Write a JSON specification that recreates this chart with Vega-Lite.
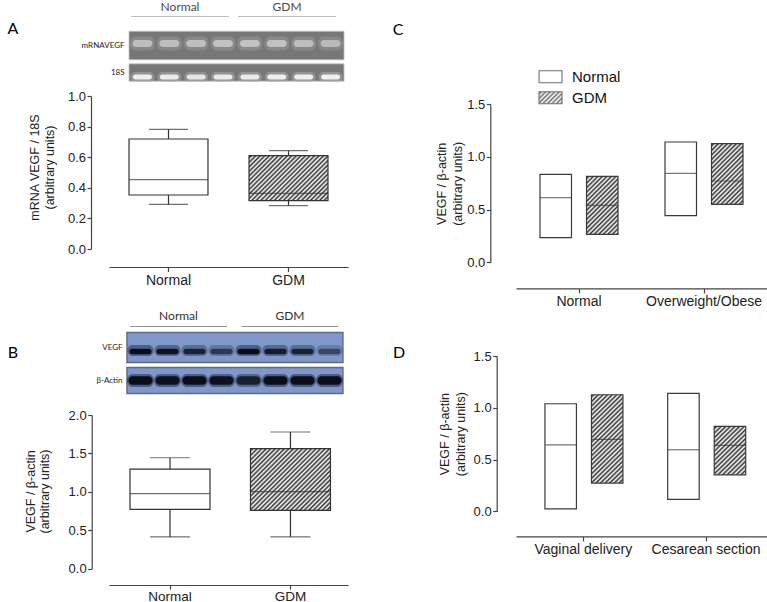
{
"$schema": "https://vega.github.io/schema/vega-lite/v6.json",
"padding": {"left": 6, "top": 0, "right": 0, "bottom": 0},
"background": "#ffffff",
"params": [{"name": "hatch", "value": [{"offset":0,"color":"#fff"},{"offset":0.015625,"color":"#333"},{"offset":0.03125,"color":"#fff"},{"offset":0.046875,"color":"#333"},{"offset":0.0625,"color":"#fff"},{"offset":0.078125,"color":"#333"},{"offset":0.09375,"color":"#fff"},{"offset":0.109375,"color":"#333"},{"offset":0.125,"color":"#fff"},{"offset":0.140625,"color":"#333"},{"offset":0.15625,"color":"#fff"},{"offset":0.171875,"color":"#333"},{"offset":0.1875,"color":"#fff"},{"offset":0.203125,"color":"#333"},{"offset":0.21875,"color":"#fff"},{"offset":0.234375,"color":"#333"},{"offset":0.25,"color":"#fff"},{"offset":0.265625,"color":"#333"},{"offset":0.28125,"color":"#fff"},{"offset":0.296875,"color":"#333"},{"offset":0.3125,"color":"#fff"},{"offset":0.328125,"color":"#333"},{"offset":0.34375,"color":"#fff"},{"offset":0.359375,"color":"#333"},{"offset":0.375,"color":"#fff"},{"offset":0.390625,"color":"#333"},{"offset":0.40625,"color":"#fff"},{"offset":0.421875,"color":"#333"},{"offset":0.4375,"color":"#fff"},{"offset":0.453125,"color":"#333"},{"offset":0.46875,"color":"#fff"},{"offset":0.484375,"color":"#333"},{"offset":0.5,"color":"#fff"},{"offset":0.515625,"color":"#333"},{"offset":0.53125,"color":"#fff"},{"offset":0.546875,"color":"#333"},{"offset":0.5625,"color":"#fff"},{"offset":0.578125,"color":"#333"},{"offset":0.59375,"color":"#fff"},{"offset":0.609375,"color":"#333"},{"offset":0.625,"color":"#fff"},{"offset":0.640625,"color":"#333"},{"offset":0.65625,"color":"#fff"},{"offset":0.671875,"color":"#333"},{"offset":0.6875,"color":"#fff"},{"offset":0.703125,"color":"#333"},{"offset":0.71875,"color":"#fff"},{"offset":0.734375,"color":"#333"},{"offset":0.75,"color":"#fff"},{"offset":0.765625,"color":"#333"},{"offset":0.78125,"color":"#fff"},{"offset":0.796875,"color":"#333"},{"offset":0.8125,"color":"#fff"},{"offset":0.828125,"color":"#333"},{"offset":0.84375,"color":"#fff"},{"offset":0.859375,"color":"#333"},{"offset":0.875,"color":"#fff"},{"offset":0.890625,"color":"#333"},{"offset":0.90625,"color":"#fff"},{"offset":0.921875,"color":"#333"},{"offset":0.9375,"color":"#fff"},{"offset":0.953125,"color":"#333"},{"offset":0.96875,"color":"#fff"},{"offset":0.984375,"color":"#333"},{"offset":1,"color":"#fff"}]}],
"config": {
  "view": {"stroke": null},
  "font": "Liberation Sans",
  "axis": {"grid": false, "labelOverlap": false, "domainColor": "#444444", "tickColor": "#444444", "domainWidth": 1.2, "tickWidth": 1.2, "labelColor": "#222222", "titleColor": "#222222", "labelFont": "Liberation Sans", "titleFont": "Liberation Sans", "titleFontWeight": "normal"}
},
"datasets": {
  "hdr": [{"group":"Normal","part":"label"},{"group":"GDM","part":"label"},{"group":"Normal","part":"line"},{"group":"GDM","part":"line"}],
  "stripsA": [{"gel":"A","row":"mRNAVEGF"},{"gel":"A","row":"18S"}],
  "stripsB": [{"gel":"B","row":"VEGF"},{"gel":"B","row":"β-Actin"}],
  "gelA": [
    {"row":"mRNAVEGF","lane":1,"i":0.85},{"row":"mRNAVEGF","lane":2,"i":0.85},{"row":"mRNAVEGF","lane":3,"i":0.85},{"row":"mRNAVEGF","lane":4,"i":0.9},
    {"row":"mRNAVEGF","lane":5,"i":0.9},{"row":"mRNAVEGF","lane":6,"i":0.9},{"row":"mRNAVEGF","lane":7,"i":0.85},{"row":"mRNAVEGF","lane":8,"i":0.8},
    {"row":"18S","lane":1,"i":1},{"row":"18S","lane":2,"i":0.95},{"row":"18S","lane":3,"i":0.9},{"row":"18S","lane":4,"i":0.95},
    {"row":"18S","lane":5,"i":0.95},{"row":"18S","lane":6,"i":1},{"row":"18S","lane":7,"i":1},{"row":"18S","lane":8,"i":1}
  ],
  "gelB": [
    {"row":"VEGF","lane":1,"i":1},{"row":"VEGF","lane":2,"i":0.95},{"row":"VEGF","lane":3,"i":0.8},{"row":"VEGF","lane":4,"i":0.6},
    {"row":"VEGF","lane":5,"i":1},{"row":"VEGF","lane":6,"i":0.85},{"row":"VEGF","lane":7,"i":0.8},{"row":"VEGF","lane":8,"i":0.5},
    {"row":"β-Actin","lane":1,"i":1},{"row":"β-Actin","lane":2,"i":0.95},{"row":"β-Actin","lane":3,"i":1},{"row":"β-Actin","lane":4,"i":0.95},
    {"row":"β-Actin","lane":5,"i":0.8},{"row":"β-Actin","lane":6,"i":1},{"row":"β-Actin","lane":7,"i":1},{"row":"β-Actin","lane":8,"i":1}
  ],
  "boxA": [{"group":"Normal","low":0.292,"q1":0.353,"median":0.453,"q3":0.719,"high":0.782},{"group":"GDM","low":0.283,"q1":0.316,"median":0.364,"q3":0.61,"high":0.643}],
  "boxB": [{"group":"Normal","low":0.413,"q1":0.773,"median":0.976,"q3":1.297,"high":1.444},{"group":"GDM","low":0.413,"q1":0.76,"median":1.002,"q3":1.562,"high":1.779}],
  "boxC": [
    {"bmi":"Normal","group":"Normal","low":0.234,"median":0.613,"high":0.833},
    {"bmi":"Normal","group":"GDM","low":0.265,"median":0.54,"high":0.814},
    {"bmi":"Overweight/Obese","group":"Normal","low":0.442,"median":0.843,"high":1.14},
    {"bmi":"Overweight/Obese","group":"GDM","low":0.549,"median":0.771,"high":1.124}
  ],
  "boxD": [
    {"delivery":"Vaginal delivery","group":"Normal","low":0.025,"median":0.643,"high":1.039},
    {"delivery":"Vaginal delivery","group":"GDM","low":0.273,"median":0.695,"high":1.126},
    {"delivery":"Cesarean section","group":"Normal","low":0.116,"median":0.595,"high":1.139},
    {"delivery":"Cesarean section","group":"GDM","low":0.353,"median":0.637,"high":0.82}
  ],
  "legend": [{"group":"Normal"},{"group":"GDM"}],
  "spacer": [{"k":"D"}],
  "empty": []
},
"hconcat": [
 {
  "vconcat": [
   {
    "width": 239, "height": 22,
    "data": {"name": "hdr"},
    "encoding": {
      "x": {"field":"group","type":"nominal","scale":{"type":"point","domain":["Normal","GDM"],"padding":0.617,"align":0.538},"axis":null},
      "y": {"field":"part","type":"nominal","scale":{"type":"point","domain":["label","line"],"padding":0.5},"axis":{"labels":false,"ticks":false,"domain":false,"tickSize":0,"title":"A","titleAngle":0,"titleX":-96.7,"titleY":33.3,"titleAlign":"center","titleBaseline":"alphabetic","titleFont":"Lato","titleFontSize":16,"titleColor":"#000000"}}
    },
    "layer": [
      {"transform":[{"filter":"datum.part === 'label'"}],"mark":{"type":"text","font":"Lato","fontSize":12,"color":"#4a4a4a","baseline":"middle","dy":1},"encoding":{"text":{"field":"group"}}},
      {"transform":[{"filter":"datum.part === 'line'"}],"mark":{"type":"tick","orient":"horizontal","size":98,"thickness":1,"color":"#a0a0a0"}}
    ]
   },
   {
    "width": 239, "height": 74,
    "resolve": {"scale": {"x": "independent", "opacity": "independent"}},
    "layer": [
      {"data":{"name":"stripsA"},"transform":[{"filter":"datum.row === 'mRNAVEGF'"}],
       "mark":{"type":"tick","orient":"horizontal","size":215,"thickness":28.5,"fill":"#3e3e3e","stroke":"#a8a8a8","strokeWidth":0.8},
       "encoding":{"x":{"field":"gel","type":"nominal","scale":{"type":"point","padding":0.5,"align":0.5335},"axis":null},
         "y":{"field":"row","type":"nominal","scale":{"type":"point","domain":["mRNAVEGF","18S"],"padding":0.87},"axis":{"title":null,"domain":false,"ticks":false,"tickSize":0,"offset":-20,"labelPadding":5,"labelFont":"Lato","labelFontSize":8,"labelColor":"#222222"}}}},
      {"data":{"name":"stripsA"},"transform":[{"filter":"datum.row === '18S'"}],
       "mark":{"type":"tick","orient":"horizontal","size":215,"thickness":17.3,"fill":"#3e3e3e","stroke":"#a8a8a8","strokeWidth":0.8},
       "encoding":{"x":{"field":"gel","type":"nominal","scale":{"type":"point","padding":0.5,"align":0.5335},"axis":null},
         "y":{"field":"row","type":"nominal","scale":{"type":"point","domain":["mRNAVEGF","18S"],"padding":0.87}}}},
      {"data":{"name":"gelA"},"transform":[{"filter":"datum.row === 'mRNAVEGF'"}],
       "mark":{"type":"tick","orient":"horizontal","size":25,"thickness":14,"color":"#a0a0a0","cornerRadius":6,"yOffset":-2},
       "encoding":{"x":{"field":"lane","type":"ordinal","scale":{"type":"point","padding":0.9465,"align":0.657},"axis":null},
         "y":{"field":"row","type":"nominal","scale":{"type":"point","domain":["mRNAVEGF","18S"],"padding":0.87}},
         "opacity":{"field":"i","type":"quantitative","scale":{"domain":[0,1],"range":[0,0.5]},"legend":null}}},
      {"data":{"name":"gelA"},"transform":[{"filter":"datum.row === 'mRNAVEGF'"}],
       "mark":{"type":"tick","orient":"horizontal","size":20,"thickness":7,"color":"#cfcfcf","cornerRadius":3.5,"yOffset":-2},
       "encoding":{"x":{"field":"lane","type":"ordinal","scale":{"type":"point","padding":0.9465,"align":0.657},"axis":null},
         "y":{"field":"row","type":"nominal","scale":{"type":"point","domain":["mRNAVEGF","18S"],"padding":0.87}},
         "opacity":{"field":"i","type":"quantitative","scale":{"domain":[0,1],"range":[0,0.9]},"legend":null}}},
      {"data":{"name":"gelA"},"transform":[{"filter":"datum.row === '18S'"}],
       "mark":{"type":"tick","orient":"horizontal","size":24,"thickness":10,"color":"#b0b0b0","cornerRadius":5,"yOffset":4.5},
       "encoding":{"x":{"field":"lane","type":"ordinal","scale":{"type":"point","padding":0.9465,"align":0.657},"axis":null},
         "y":{"field":"row","type":"nominal","scale":{"type":"point","domain":["mRNAVEGF","18S"],"padding":0.87}},
         "opacity":{"field":"i","type":"quantitative","scale":{"domain":[0,1],"range":[0,0.5]},"legend":null}}},
      {"data":{"name":"gelA"},"transform":[{"filter":"datum.row === '18S'"}],
       "mark":{"type":"tick","orient":"horizontal","size":19,"thickness":5,"color":"#f0f0f0","cornerRadius":2.5,"yOffset":4.5},
       "encoding":{"x":{"field":"lane","type":"ordinal","scale":{"type":"point","padding":0.9465,"align":0.657},"axis":null},
         "y":{"field":"row","type":"nominal","scale":{"type":"point","domain":["mRNAVEGF","18S"],"padding":0.87}},
         "opacity":{"field":"i","type":"quantitative","scale":{"domain":[0,1],"range":[0,1]},"legend":null}}}
    ]
   },
   {
    "width": 239, "height": 153,
    "data": {"name": "boxA"},
    "encoding": {"x": {"field":"group","type":"nominal","scale":{"domain":["Normal","GDM"],"paddingInner":0.342,"paddingOuter":0.1667,"align":0.5},"axis":{"title":null,"labelAngle":0,"offset":18,"tickSize":4.5,"labelFontSize":14,"labelPadding":1.5}}},
    "layer": [
      {"mark":{"type":"rule","color":"#333333","strokeWidth":1.2},
       "encoding":{"y":{"field":"low","type":"quantitative","scale":{"domain":[0,1],"nice":false},"axis":{"values":[0,0.2,0.4,0.6,0.8,1],"tickCount":12,"format":".1f","labelOverlap":false,"offset":18,"tickSize":4,"labelFontSize":13,"labelPadding":1.5,"title":["mRNA VEGF / 18S","(arbitrary units)"],"titleFontSize":12.5,"titleLineHeight":15,"titleX":-56.7,"titleY":71,"titleAlign":"center","titleBaseline":"middle","titleAngle":-90}},"y2":{"field":"high"}}},
      {"mark":{"type":"tick","size":39,"thickness":1.2,"color":"#333333"},"encoding":{"y":{"field":"high","type":"quantitative","scale":{"domain":[0,1],"nice":false}}}},
      {"mark":{"type":"tick","size":39,"thickness":1.2,"color":"#333333"},"encoding":{"y":{"field":"low","type":"quantitative","scale":{"domain":[0,1],"nice":false}}}},
      {"transform":[{"filter":"datum.group === 'Normal'"}],"mark":{"type":"bar","fill":"#ffffff","stroke":"#333333","strokeWidth":1.2},
       "encoding":{"y":{"field":"q1","type":"quantitative","scale":{"domain":[0,1],"nice":false}},"y2":{"field":"q3"}}},
      {"transform":[{"filter":"datum.group === 'GDM'"}],"mark":{"type":"bar","fill":{"expr":"{gradient: 'linear', x1: 0, y1: 0, x2: 1.384, y2: 0.788, stops: hatch}"},"stroke":"#333333","strokeWidth":1.2},
       "encoding":{"y":{"field":"q1","type":"quantitative","scale":{"domain":[0,1],"nice":false}},"y2":{"field":"q3"}}},
      {"mark":{"type":"tick","size":79,"thickness":1.2,"color":"#333333"},"encoding":{"y":{"field":"median","type":"quantitative","scale":{"domain":[0,1],"nice":false}}}}
    ]
   },
   {
    "width": 239, "height": 60.5,
    "data": {"name": "empty"},
    "mark": {"type": "point", "opacity": 0}
   },
   {
    "width": 239, "height": 22,
    "data": {"name": "hdr"},
    "encoding": {
      "x": {"field":"group","type":"nominal","scale":{"type":"point","domain":["Normal","GDM"],"padding":0.572,"align":0.545},"axis":null},
      "y": {"field":"part","type":"nominal","scale":{"type":"point","domain":["label","line"],"padding":0.5},"axis":{"labels":false,"ticks":false,"domain":false,"tickSize":0,"title":"B","titleAngle":0,"titleX":-96.7,"titleY":47.2,"titleAlign":"center","titleBaseline":"alphabetic","titleFont":"Lato","titleFontSize":16,"titleColor":"#000000"}}
    },
    "layer": [
      {"transform":[{"filter":"datum.part === 'label'"}],"mark":{"type":"text","font":"Lato","fontSize":12,"color":"#333333","baseline":"middle","dy":0.5},"encoding":{"text":{"field":"group"}}},
      {"transform":[{"filter":"datum.part === 'line'"}],"mark":{"type":"tick","orient":"horizontal","size":97,"thickness":1,"color":"#666666"}}
    ]
   },
   {
    "width": 239, "height": 82.5,
    "resolve": {"scale": {"x": "independent", "opacity": "independent"}},
    "layer": [
      {"data":{"name":"stripsB"},"transform":[{"filter":"datum.row === 'VEGF'"}],
       "mark":{"type":"tick","orient":"horizontal","size":216,"thickness":30,"fill":"#4a6db3","stroke":"#1d2b4f","strokeWidth":1.4},
       "encoding":{"x":{"field":"gel","type":"nominal","scale":{"type":"point","padding":0.5,"align":0.527},"axis":null},
         "y":{"field":"row","type":"nominal","scale":{"type":"point","domain":["VEGF","β-Actin"],"padding":0.75,"align":0.313},"axis":{"title":null,"domain":false,"ticks":false,"tickSize":0,"offset":-18,"labelPadding":5,"labelFont":"Lato","labelFontSize":8,"labelColor":"#222222"}}}},
      {"data":{"name":"stripsB"},"transform":[{"filter":"datum.row === 'β-Actin'"}],
       "mark":{"type":"tick","orient":"horizontal","size":216,"thickness":26,"fill":"#4a6db3","stroke":"#1d2b4f","strokeWidth":1.4},
       "encoding":{"x":{"field":"gel","type":"nominal","scale":{"type":"point","padding":0.5,"align":0.527},"axis":null},
         "y":{"field":"row","type":"nominal","scale":{"type":"point","domain":["VEGF","β-Actin"],"padding":0.75,"align":0.313}}}},
      {"data":{"name":"gelB"},"transform":[{"filter":"datum.row === 'VEGF'"}],
       "mark":{"type":"tick","orient":"horizontal","size":26,"thickness":11,"color":"#15203d","cornerRadius":5,"yOffset":3},
       "encoding":{"x":{"field":"lane","type":"ordinal","scale":{"type":"point","padding":0.926,"align":0.63},"axis":null},
         "y":{"field":"row","type":"nominal","scale":{"type":"point","domain":["VEGF","β-Actin"],"padding":0.75,"align":0.313}},
         "opacity":{"field":"i","type":"quantitative","scale":{"domain":[0,1],"range":[0,0.45]},"legend":null}}},
      {"data":{"name":"gelB"},"transform":[{"filter":"datum.row === 'VEGF'"}],
       "mark":{"type":"tick","orient":"horizontal","size":22,"thickness":5.5,"color":"#0b0e1a","cornerRadius":2.5,"yOffset":4},
       "encoding":{"x":{"field":"lane","type":"ordinal","scale":{"type":"point","padding":0.926,"align":0.63},"axis":null},
         "y":{"field":"row","type":"nominal","scale":{"type":"point","domain":["VEGF","β-Actin"],"padding":0.75,"align":0.313}},
         "opacity":{"field":"i","type":"quantitative","scale":{"domain":[0,1],"range":[0,1]},"legend":null}}},
      {"data":{"name":"gelB"},"transform":[{"filter":"datum.row === 'β-Actin'"}],
       "mark":{"type":"tick","orient":"horizontal","size":27,"thickness":13,"color":"#15203d","cornerRadius":6},
       "encoding":{"x":{"field":"lane","type":"ordinal","scale":{"type":"point","padding":0.926,"align":0.63},"axis":null},
         "y":{"field":"row","type":"nominal","scale":{"type":"point","domain":["VEGF","β-Actin"],"padding":0.75,"align":0.313}},
         "opacity":{"field":"i","type":"quantitative","scale":{"domain":[0,1],"range":[0,0.5]},"legend":null}}},
      {"data":{"name":"gelB"},"transform":[{"filter":"datum.row === 'β-Actin'"}],
       "mark":{"type":"tick","orient":"horizontal","size":24,"thickness":8.5,"color":"#0b0e1a","cornerRadius":4},
       "encoding":{"x":{"field":"lane","type":"ordinal","scale":{"type":"point","padding":0.926,"align":0.63},"axis":null},
         "y":{"field":"row","type":"nominal","scale":{"type":"point","domain":["VEGF","β-Actin"],"padding":0.75,"align":0.313}},
         "opacity":{"field":"i","type":"quantitative","scale":{"domain":[0,1],"range":[0,1]},"legend":null}}}
    ]
   },
   {
    "width": 239, "height": 153.7,
    "data": {"name": "boxB"},
    "encoding": {"x": {"field":"group","type":"nominal","scale":{"domain":["Normal","GDM"],"paddingInner":0.336,"paddingOuter":0.16,"align":0.545},"axis":{"title":null,"labelAngle":0,"offset":16.3,"tickSize":4,"labelFontSize":13.5,"labelPadding":0}}},
    "layer": [
      {"mark":{"type":"rule","color":"#333333","strokeWidth":1.2},
       "encoding":{"y":{"field":"low","type":"quantitative","scale":{"domain":[0,2],"nice":false},"axis":{"values":[0,0.5,1,1.5,2],"tickCount":12,"format":".1f","labelOverlap":false,"offset":17.3,"tickSize":4,"labelFontSize":13,"labelPadding":1.5,"title":["VEGF / β-actin","(arbitrary units)"],"titleFontSize":12.5,"titleLineHeight":14,"titleX":-61.4,"titleY":76,"titleAlign":"center","titleBaseline":"middle","titleAngle":-90}},"y2":{"field":"high"}}},
      {"mark":{"type":"tick","size":40,"thickness":1.2,"color":"#333333"},"encoding":{"y":{"field":"high","type":"quantitative","scale":{"domain":[0,2],"nice":false}}}},
      {"mark":{"type":"tick","size":40,"thickness":1.2,"color":"#333333"},"encoding":{"y":{"field":"low","type":"quantitative","scale":{"domain":[0,2],"nice":false}}}},
      {"transform":[{"filter":"datum.group === 'Normal'"}],"mark":{"type":"bar","fill":"#ffffff","stroke":"#333333","strokeWidth":1.2},
       "encoding":{"y":{"field":"q1","type":"quantitative","scale":{"domain":[0,2],"nice":false}},"y2":{"field":"q3"}}},
      {"transform":[{"filter":"datum.group === 'GDM'"}],"mark":{"type":"bar","fill":{"expr":"{gradient: 'linear', x1: 0, y1: 0, x2: 1.136, y2: 0.875, stops: hatch}"},"stroke":"#333333","strokeWidth":1.2},
       "encoding":{"y":{"field":"q1","type":"quantitative","scale":{"domain":[0,2],"nice":false}},"y2":{"field":"q3"}}},
      {"mark":{"type":"tick","size":80,"thickness":1.2,"color":"#333333"},"encoding":{"y":{"field":"median","type":"quantitative","scale":{"domain":[0,2],"nice":false}}}}
    ]
   }
  ],
  "spacing": 0,
  "bounds": "flush"
 },
 {
  "vconcat": [
   {
    "width": 252, "height": 40.3,
    "data": {"name": "empty"},
    "mark": {"type": "point", "opacity": 0}
   },
   {
    "width": 252, "height": 63,
    "data": {"name": "legend"},
    "encoding": {
      "x": {"datum":"key","type":"nominal","scale":{"type":"point","padding":0.5,"align":0.137},"axis":null},
      "y": {"field":"group","type":"nominal","scale":{"type":"point","domain":["Normal","GDM"],"padding":1,"align":0.85},"axis":{"labels":false,"ticks":false,"domain":false,"tickSize":0,"title":"C","titleAngle":0,"titleX":-118.3,"titleY":-7,"titleAlign":"center","titleBaseline":"alphabetic","titleFont":"Lato","titleFontSize":16,"titleColor":"#000000"}}
    },
    "layer": [
      {"transform":[{"filter":"datum.group === 'Normal'"}],"mark":{"type":"tick","orient":"horizontal","size":23,"thickness":12,"fill":"#ffffff","stroke":"#333333","strokeWidth":1.1}},
      {"transform":[{"filter":"datum.group === 'GDM'"}],"mark":{"type":"tick","orient":"horizontal","size":23,"thickness":12,"fill":{"expr":"{gradient: 'linear', x1: 0, y1: 0, x2: 4.949, y2: 2.582, stops: hatch}"},"stroke":"#333333","strokeWidth":1.1}},
      {"mark":{"type":"text","align":"left","dx":21.5,"fontSize":15,"baseline":"middle","color":"#111111"},"encoding":{"text":{"field":"group"}}}
    ]
   },
   {
    "width": 252, "height": 158.4,
    "data": {"name": "boxC"},
    "encoding": {
      "x": {"field":"bmi","type":"nominal","scale":{"domain":["Normal","Overweight/Obese"],"paddingInner":0.376,"paddingOuter":0.196,"align":0.49},"axis":{"title":null,"labelAngle":0,"offset":26,"tickSize":4.5,"labelFontSize":14,"labelPadding":1.5}},
      "xOffset": {"field":"group","type":"nominal","scale":{"domain":["Normal","GDM"],"paddingInner":0.323,"paddingOuter":0}}
    },
    "layer": [
      {"transform":[{"filter":"datum.group === 'Normal'"}],"mark":{"type":"bar","fill":"#ffffff","stroke":"#3a3a3a","strokeWidth":1.2},
       "encoding":{"y":{"field":"low","type":"quantitative","scale":{"domain":[0,1.5],"nice":false},"axis":{"values":[0,0.5,1,1.5],"tickCount":12,"format":".1f","labelOverlap":false,"offset":25.7,"tickSize":4,"labelFontSize":13,"labelPadding":1.5,"title":["VEGF / β-actin","(arbitrary units)"],"titleFontSize":12.5,"titleLineHeight":16,"titleX":-49.3,"titleY":79.3,"titleAlign":"center","titleBaseline":"middle","titleAngle":-90}},"y2":{"field":"high"}}},
      {"transform":[{"filter":"datum.group === 'GDM' && datum.bmi === 'Normal'"}],"mark":{"type":"bar","fill":{"expr":"{gradient: 'linear', x1: 0, y1: 0, x2: 1.047, y2: 1.928, stops: hatch}"},"stroke":"#3a3a3a","strokeWidth":1.2},
       "encoding":{"y":{"field":"low","type":"quantitative","scale":{"domain":[0,1.5],"nice":false}},"y2":{"field":"high"}}},
      {"transform":[{"filter":"datum.group === 'GDM' && datum.bmi === 'Overweight/Obese'"}],"mark":{"type":"bar","fill":{"expr":"{gradient: 'linear', x1: 0, y1: 0, x2: 0.975, y2: 1.879, stops: hatch}"},"stroke":"#3a3a3a","strokeWidth":1.2},
       "encoding":{"y":{"field":"low","type":"quantitative","scale":{"domain":[0,1.5],"nice":false}},"y2":{"field":"high"}}},
      {"mark":{"type":"tick","size":31.5,"thickness":1.2,"color":"#3a3a3a"},"encoding":{"y":{"field":"median","type":"quantitative","scale":{"domain":[0,1.5],"nice":false}}}}
    ]
   },
   {
    "width": 252, "height": 92.2,
    "data": {"name": "spacer"},
    "mark": {"type": "point", "opacity": 0},
    "encoding": {
      "y": {"field":"k","type":"nominal","axis":{"labels":false,"ticks":false,"domain":false,"tickSize":0,"title":"D","titleAngle":0,"titleX":-117.3,"titleY":94.3,"titleAlign":"center","titleBaseline":"alphabetic","titleFont":"Lato","titleFontSize":16,"titleColor":"#000000"}}
    }
   },
   {
    "width": 252, "height": 155.4,
    "data": {"name": "boxD"},
    "encoding": {
      "x": {"field":"delivery","type":"nominal","scale":{"domain":["Vaginal delivery","Cesarean section"],"paddingInner":0.375,"paddingOuter":0.214,"align":0.551},"axis":{"title":null,"labelAngle":0,"offset":25,"tickSize":4.5,"labelFontSize":14,"labelPadding":1.5}},
      "xOffset": {"field":"group","type":"nominal","scale":{"domain":["Normal","GDM"],"paddingInner":0.326,"paddingOuter":0}}
    },
    "layer": [
      {"transform":[{"filter":"datum.group === 'Normal'"}],"mark":{"type":"bar","fill":"#ffffff","stroke":"#3a3a3a","strokeWidth":1.2},
       "encoding":{"y":{"field":"low","type":"quantitative","scale":{"domain":[0,1.5],"nice":false},"axis":{"values":[0,0.5,1,1.5],"tickCount":12,"format":".1f","labelOverlap":false,"offset":19.3,"tickSize":4,"labelFontSize":13,"labelPadding":1.5,"title":["VEGF / β-actin","(arbitrary units)"],"titleFontSize":12.5,"titleLineHeight":16.5,"titleX":-52.4,"titleY":77.7,"titleAlign":"center","titleBaseline":"middle","titleAngle":-90}},"y2":{"field":"high"}}},
      {"transform":[{"filter":"datum.group === 'GDM' && datum.delivery === 'Vaginal delivery'"}],"mark":{"type":"bar","fill":{"expr":"{gradient: 'linear', x1: 0, y1: 0, x2: 0.51, y2: 1.459, stops: hatch}"},"stroke":"#3a3a3a","strokeWidth":1.2},
       "encoding":{"y":{"field":"low","type":"quantitative","scale":{"domain":[0,1.5],"nice":false}},"y2":{"field":"high"}}},
      {"transform":[{"filter":"datum.group === 'GDM' && datum.delivery === 'Cesarean section'"}],"mark":{"type":"bar","fill":{"expr":"{gradient: 'linear', x1: 0, y1: 0, x2: 1.357, y2: 2.125, stops: hatch}"},"stroke":"#3a3a3a","strokeWidth":1.2},
       "encoding":{"y":{"field":"low","type":"quantitative","scale":{"domain":[0,1.5],"nice":false}},"y2":{"field":"high"}}},
      {"mark":{"type":"tick","size":30.9,"thickness":1.2,"color":"#3a3a3a"},"encoding":{"y":{"field":"median","type":"quantitative","scale":{"domain":[0,1.5],"nice":false}}}}
    ]
   }
  ],
  "spacing": 0,
  "bounds": "flush"
 }
],
"spacing": 407,
"bounds": "flush"
}
